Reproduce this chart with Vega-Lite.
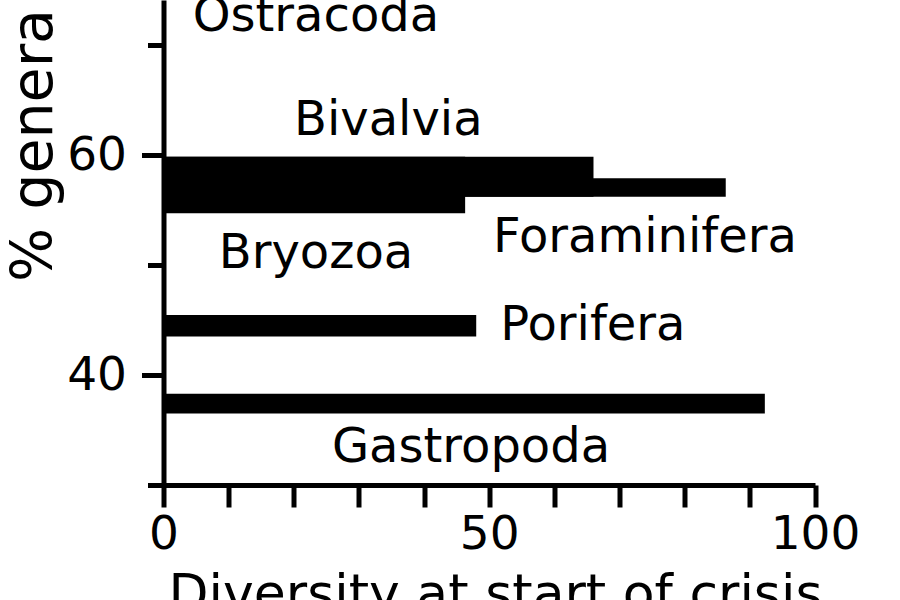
{
  "$schema": "https://vega.github.io/schema/vega-lite/v6.json",
  "width": 651.5,
  "height": 485,
  "autosize": "none",
  "padding": {"left": 163.5, "top": 0, "right": 85, "bottom": 115},
  "background": "white",
  "config": {"view": {"stroke": null}, "font": "DejaVu Sans"},
  "datasets": {
    "bars": [
      {"taxon": "Bryozoa", "diversity": 46.3, "top": 59.85, "bottom": 54.7},
      {"taxon": "Bivalvia", "diversity": 66, "top": 59.85, "bottom": 56.2},
      {"taxon": "Foraminifera", "diversity": 86.3, "top": 57.9, "bottom": 56.2},
      {"taxon": "Porifera", "diversity": 48.0, "top": 45.45, "bottom": 43.5},
      {"taxon": "Gastropoda", "diversity": 92.3, "top": 38.3, "bottom": 36.5}
    ],
    "labels": [
      {"taxon": "Ostracoda", "lx": 23.4, "ly": 72.55},
      {"taxon": "Bivalvia", "lx": 34.5, "ly": 63.1},
      {"taxon": "Foraminifera", "lx": 73.9, "ly": 52.45},
      {"taxon": "Bryozoa", "lx": 23.4, "ly": 51.0},
      {"taxon": "Porifera", "lx": 65.9, "ly": 44.45},
      {"taxon": "Gastropoda", "lx": 47.2, "ly": 33.4}
    ]
  },
  "layer": [
    {
      "data": {"name": "bars"},
      "mark": {"type": "rect", "color": "black"},
      "encoding": {
        "x": {
          "field": "diversity",
          "type": "quantitative",
          "scale": {"domain": [0, 100], "nice": false, "zero": false},
          "axis": {
            "title": "Diversity at start of crisis",
            "values": [0, 10, 20, 30, 40, 50, 60, 70, 80, 90, 100],
            "labelExpr": "datum.value % 50 === 0 ? datum.label : ''",
            "grid": false,
            "tickSize": 22,
            "tickWidth": 5,
            "tickColor": "black",
            "domainWidth": 5,
            "domainColor": "black",
            "labelFontSize": 47,
            "labelFont": "DejaVu Sans",
            "labelColor": "black",
            "labelPadding": 4,
            "labelFlush": false,
            "labelOverlap": false,
            "titleFont": "DejaVu Sans",
            "titleFontSize": 52,
            "titleFontWeight": "normal",
            "titleColor": "black",
            "titleX": 331.5,
            "titleY": 125,
            "titleBaseline": "alphabetic",
            "titleAlign": "center"
          }
        },
        "x2": {"datum": 0},
        "y": {
          "field": "top",
          "type": "quantitative",
          "scale": {"domain": [30, 74.1], "nice": false, "zero": false},
          "axis": {
            "title": "% genera",
            "values": [30, 40, 50, 60, 70],
            "labelExpr": "datum.value % 20 === 0 ? datum.label : ''",
            "grid": false,
            "tickSize": {"condition": {"test": "datum.value % 20 === 0", "value": 22}, "value": 16},
            "tickWidth": 5,
            "tickColor": "black",
            "domainWidth": 5,
            "domainColor": "black",
            "labelFontSize": 47,
            "labelFont": "DejaVu Sans",
            "labelColor": "black",
            "labelPadding": 15,
            "labelOverlap": false,
            "titleFont": "DejaVu Sans",
            "titleFontSize": 57,
            "titleFontWeight": "normal",
            "titleColor": "black",
            "titleX": -112,
            "titleY": 145,
            "titleBaseline": "alphabetic",
            "titleAlign": "center"
          }
        },
        "y2": {"field": "bottom"}
      }
    },
    {
      "data": {"name": "labels"},
      "mark": {"type": "text", "fontSize": 48, "font": "DejaVu Sans", "color": "black", "baseline": "middle", "align": "center"},
      "encoding": {
        "x": {"field": "lx", "type": "quantitative"},
        "y": {"field": "ly", "type": "quantitative"},
        "text": {"field": "taxon"}
      }
    }
  ]
}
